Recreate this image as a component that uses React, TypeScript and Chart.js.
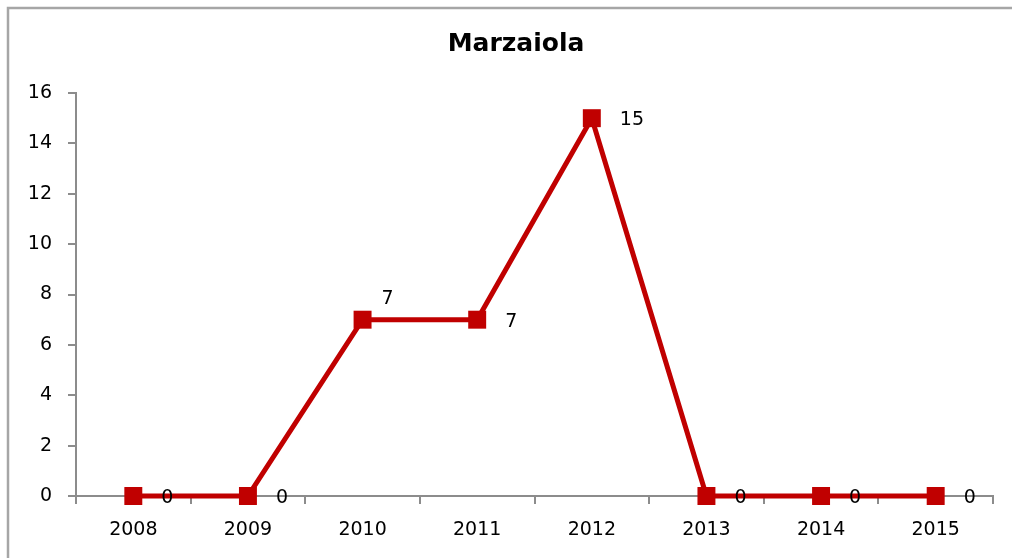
import React, { useEffect, useRef } from "react";
import { Chart, registerables } from "chart.js";

Chart.register(...registerables);

const title = "Marzaiola";
const years = ["2008", "2009", "2010", "2011", "2012", "2013", "2014", "2015"];
const values = [0, 0, 7, 7, 15, 0, 0, 0];
const labelPlacement = ["right", "right", "above", "right", "right", "right", "right", "right"];
const yTicks = [0, 2, 4, 6, 8, 10, 12, 14, 16];

const FONT = "'DejaVu Sans', Verdana, sans-serif";
const RED = "#C00000";
const AXIS = "#8c8c8c";

const framePlugin = {
  id: "frame",
  beforeDraw(chart: any) {
    const ctx = chart.ctx;
    ctx.save();
    ctx.fillStyle = "#ffffff";
    ctx.fillRect(0, 0, chart.width, chart.height);
    ctx.strokeStyle = "#a6a6a6";
    ctx.lineWidth = 2.5;
    ctx.strokeRect(8, 8, chart.width + 20, chart.height + 20);
    ctx.fillStyle = "#000";
    ctx.font = `bold 25px ${FONT}`;
    ctx.textAlign = "center";
    ctx.textBaseline = "middle";
    ctx.fillText(title, 516, 44);
    ctx.restore();
  },
  afterDatasetsDraw(chart: any) {
    const ctx = chart.ctx;
    const meta = chart.getDatasetMeta(0);
    ctx.save();
    ctx.fillStyle = "#000";
    ctx.font = `19px ${FONT}`;
    ctx.textBaseline = "middle";
    ctx.textAlign = "left";
    meta.data.forEach((pt: any, i: number) => {
      const v = values[i];
      let x = pt.x + 28;
      let y = pt.y + 2;
      if (labelPlacement[i] === "above") {
        x = pt.x + 19;
        y = pt.y - 21;
      }
      ctx.fillText(String(v), x, y);
    });
    ctx.restore();
  },
};

export default function App() {
  const ref = useRef<HTMLCanvasElement>(null);
  useEffect(() => {
    document.body.style.margin = "0";
    const chart = new Chart(ref.current!, {
      type: "line",
      data: {
        labels: years,
        datasets: [
          {
            data: values,
            borderColor: RED,
            backgroundColor: RED,
            borderWidth: 5,
            pointStyle: "rect",
            pointRadius: 12.7,
            pointHoverRadius: 12.7,
            pointBackgroundColor: RED,
            pointBorderColor: RED,
            pointBorderWidth: 0,
            tension: 0,
            clip: false as any,
          },
        ],
      },
      options: {
        animation: false,
        responsive: false,
        maintainAspectRatio: false,
        layout: { padding: { top: 93, right: 19, left: 0, bottom: 0 } },
        plugins: {
          legend: { display: false },
          title: { display: false },
          tooltip: { enabled: false },
        },
        scales: {
          x: {
            offset: true,
            grid: {
              display: true,
              drawOnChartArea: false,
              drawTicks: true,
              tickLength: 8,
              color: AXIS,
              lineWidth: 2,
              offset: true,
            },
            border: { display: true, color: AXIS, width: 2 },
            ticks: {
              color: "#000",
              font: { family: FONT, size: 19 },
              padding: 15,
              maxRotation: 0,
            },
            afterFit: (s: any) => {
              s.height = 62;
            },
          },
          y: {
            min: 0,
            max: 16,
            afterBuildTicks: (s: any) => {
              s.ticks = yTicks.map((v) => ({ value: v }));
            },
            grid: {
              display: true,
              drawOnChartArea: false,
              drawTicks: true,
              tickLength: 8,
              color: AXIS,
              lineWidth: 2,
            },
            border: { display: true, color: AXIS, width: 2 },
            ticks: {
              color: "#000",
              font: { family: FONT, size: 19 },
              padding: 16,
            },
            afterFit: (s: any) => {
              s.width = 76;
            },
          },
        },
      },
      plugins: [framePlugin],
    });
    return () => chart.destroy();
  }, []);
  return <canvas ref={ref} width={1012} height={558} style={{ display: "block" }} />;
}
